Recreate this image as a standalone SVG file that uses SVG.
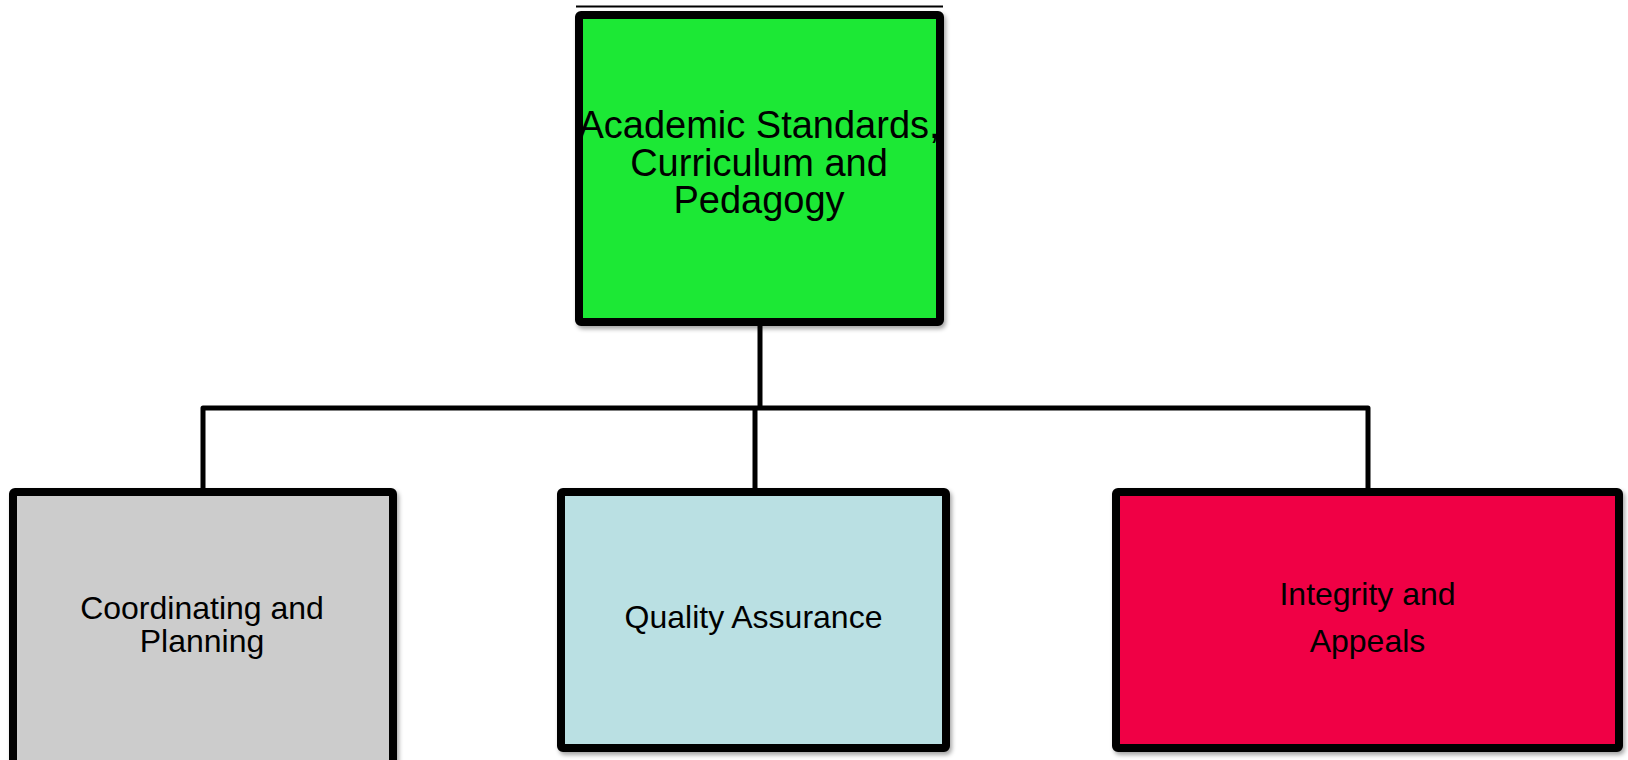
<svg xmlns="http://www.w3.org/2000/svg" width="1628" height="760" viewBox="0 0 1628 760">
<style>
.box{stroke:#000;stroke-width:8;filter:url(#sh)}
.lbl{font-family:"Liberation Sans",Arial,sans-serif;fill:#000;text-anchor:middle}
.con{fill:none;stroke:#000;stroke-width:5;stroke-linejoin:round}
</style>
<defs>
<filter id="sh" x="-5%" y="-5%" width="115%" height="115%">
<feDropShadow dx="2" dy="3" stdDeviation="2" flood-color="#000" flood-opacity="0.35"/>
</filter>
</defs>
<rect width="1628" height="760" fill="#fff"/>
<g id="connectors">
<line x1="576" y1="6.5" x2="943" y2="6.5" stroke="#000" stroke-width="2"/>
<path class="con" d="M760 326 V408"/>
<path class="con" d="M203 488 V408 H1368 V488"/>
<path class="con" d="M755 408 V488"/>
</g>
<g id="node-top">
<rect class="box" x="579" y="15" width="361" height="307" rx="2" fill="#1BE834"/>
<text class="lbl" font-size="38" x="759" y="138">Academic Standards,</text>
<text class="lbl" font-size="38" x="759" y="176">Curriculum and</text>
<text class="lbl" font-size="38" x="759" y="213">Pedagogy</text>
</g>
<g id="node-coordinating">
<rect class="box" x="13" y="492" width="380" height="280" rx="2" fill="#CCCCCC"/>
<text class="lbl" font-size="32" x="202" y="619">Coordinating and</text>
<text class="lbl" font-size="32" x="202" y="652">Planning</text>
</g>
<g id="node-quality">
<rect class="box" x="561" y="492" width="385" height="256" rx="2" fill="#BAE0E3"/>
<text class="lbl" font-size="32" x="753.5" y="628">Quality Assurance</text>
</g>
<g id="node-integrity">
<rect class="box" x="1116" y="492" width="503" height="256" rx="2" fill="#F00044"/>
<text class="lbl" font-size="32" x="1367.5" y="605">Integrity and</text>
<text class="lbl" font-size="32" x="1367.5" y="652">Appeals</text>
</g>
</svg>
